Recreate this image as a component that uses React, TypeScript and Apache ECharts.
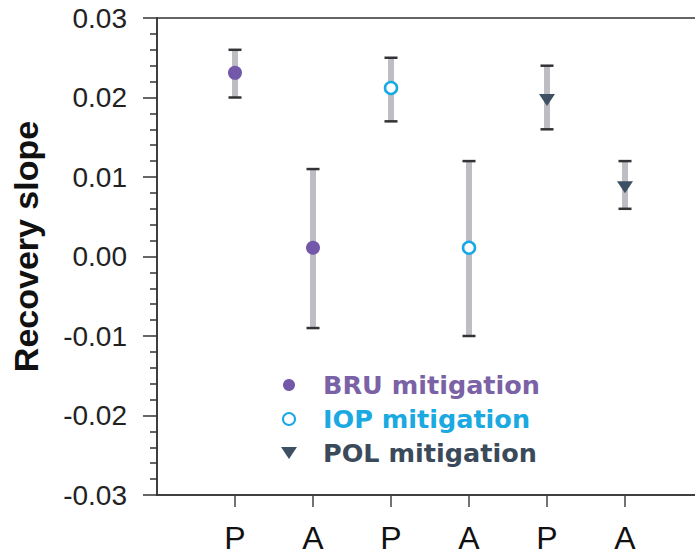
import React, { useEffect, useRef } from "react";
import * as echarts from "echarts";

// Category tick labels (index 0 and 7 are empty padding slots)
const xLabels = ["", "P", "A", "P", "A", "P", "A", ""];
const seriesNames = ["BRU mitigation", "IOP mitigation", "POL mitigation"];
// x positions (category indices) for each series
const bruX = [1, 2];
const iopX = [3, 4];
const polX = [5, 6];
// point estimates
const bruMean = [0.0231, 0.0011];
const iopMean = [0.0212, 0.0011];
const polMean = [0.0197, 0.0087];
// error bar lower / upper bounds
const bruLow = [0.02, -0.009];
const bruHigh = [0.026, 0.011];
const iopLow = [0.017, -0.01];
const iopHigh = [0.025, 0.012];
const polLow = [0.016, 0.006];
const polHigh = [0.024, 0.012];

const markerColors = ["#7357a8", "#17a8e6", "#3e5064"];
const legendTextColors = ["#7b62a6", "#1ba9e1", "#3b4a5a"];
const downTriangle = "path://M0,0L16,0L8,12Z";

export default function App() {
  const ref = useRef<HTMLDivElement>(null);
  useEffect(() => {
    if (!ref.current) return;
    const chart = echarts.init(ref.current, null, { renderer: "svg" });

    const errData: number[][] = [];
    const push = (xs: number[], lo: number[], hi: number[]) =>
      xs.forEach((x, i) => errData.push([x, lo[i], hi[i]]));
    push(bruX, bruLow, bruHigh);
    push(iopX, iopLow, iopHigh);
    push(polX, polLow, polHigh);

    const pts = (xs: number[], ys: number[]) => xs.map((x, i) => [x, ys[i]]);

    chart.setOption({
      animation: false,
      backgroundColor: "#ffffff",
      grid: {
        left: 157,
        top: 18,
        width: 546,
        height: 477,
        show: true,
        borderColor: "#333333",
        borderWidth: 1.5,
        backgroundColor: "transparent",
        outerBoundsMode: "none",
        containLabel: false,
      },
      xAxis: {
        type: "category",
        data: xLabels,
        boundaryGap: false,
        axisLine: { show: true, onZero: false, lineStyle: { color: "#333333", width: 1.5 } },
        axisTick: {
          show: true,
          length: 12,
          interval: (index: number) => index >= 1 && index <= 6,
          lineStyle: { color: "#444444", width: 1.5 },
        },
        axisLabel: {
          show: true,
          interval: 0,
          margin: 27,
          fontSize: 32,
          color: "#111111",
          fontFamily: "Liberation Sans, Arial, sans-serif",
        },
        splitLine: { show: false },
      },
      yAxis: {
        type: "value",
        min: -0.03,
        max: 0.03,
        interval: 0.01,
        name: "Recovery slope",
        nameLocation: "middle",
        nameGap: 114,
        nameTextStyle: {
          fontSize: 34,
          fontWeight: "bold",
          color: "#111111",
          fontFamily: "Liberation Sans, Arial, sans-serif",
          padding: [0, 0, 0, 20],
        },
        axisLine: { show: true, onZero: false, lineStyle: { color: "#333333", width: 1.5 } },
        axisTick: { show: true, length: 14, lineStyle: { color: "#333333", width: 1.5 } },
        minorTick: { show: true, splitNumber: 5, length: 7, lineStyle: { color: "#333333", width: 1.5 } },
        axisLabel: {
          margin: 30,
          fontSize: 28,
          color: "#222222",
          fontFamily: "Liberation Sans, Arial, sans-serif",
          formatter: (v: number) => v.toFixed(2),
        },
        splitLine: { show: false },
        minorSplitLine: { show: false },
      },
      legend: {
        orient: "vertical",
        left: 276,
        top: 367,
        itemWidth: 58,
        itemHeight: 12,
        itemGap: 8,
        selectedMode: false,
        textStyle: {
          fontSize: 25.5,
          fontWeight: "bold",
          lineHeight: 25,
          fontFamily: "DejaVu Sans, sans-serif",
        },
        data: seriesNames.map((n, i) => ({ name: n, textStyle: { color: legendTextColors[i] } })),
      },
      series: [
        {
          type: "custom",
          name: "error",
          z: 1,
          silent: true,
          data: errData,
          encode: { x: 0, y: [1, 2] },
          renderItem: (params: any, api: any) => {
            const x = api.value(0);
            const lo = api.coord([x, api.value(1)]);
            const hi = api.coord([x, api.value(2)]);
            const bw = 6;
            const cw = 13;
            return {
              type: "group",
              children: [
                {
                  type: "rect",
                  shape: { x: lo[0] - bw / 2, y: hi[1], width: bw, height: lo[1] - hi[1] },
                  style: { fill: "#bdbdc3" },
                },
                {
                  type: "line",
                  shape: { x1: hi[0] - cw / 2, y1: hi[1], x2: hi[0] + cw / 2, y2: hi[1] },
                  style: { stroke: "#333333", lineWidth: 2.5 },
                },
                {
                  type: "line",
                  shape: { x1: lo[0] - cw / 2, y1: lo[1], x2: lo[0] + cw / 2, y2: lo[1] },
                  style: { stroke: "#333333", lineWidth: 2.5 },
                },
              ],
            };
          },
        },
        {
          type: "scatter",
          name: seriesNames[0],
          z: 3,
          symbol: "circle",
          symbolSize: 14,
          itemStyle: { color: markerColors[0], opacity: 1 },
          data: pts(bruX, bruMean),
        },
        {
          type: "scatter",
          name: seriesNames[1],
          z: 3,
          symbol: "circle",
          symbolSize: 12,
          itemStyle: { color: "#ffffff", borderColor: markerColors[1], borderWidth: 2.5, opacity: 1 },
          data: pts(iopX, iopMean),
        },
        {
          type: "scatter",
          name: seriesNames[2],
          z: 3,
          symbol: downTriangle,
          symbolSize: [16, 12],
          itemStyle: { color: markerColors[2], opacity: 1 },
          data: pts(polX, polMean),
        },
      ],
    });
    return () => chart.dispose();
  }, []);
  return <div ref={ref} style={{ width: 695, height: 555, position: "absolute", left: 0, top: 0 }} />;
}
